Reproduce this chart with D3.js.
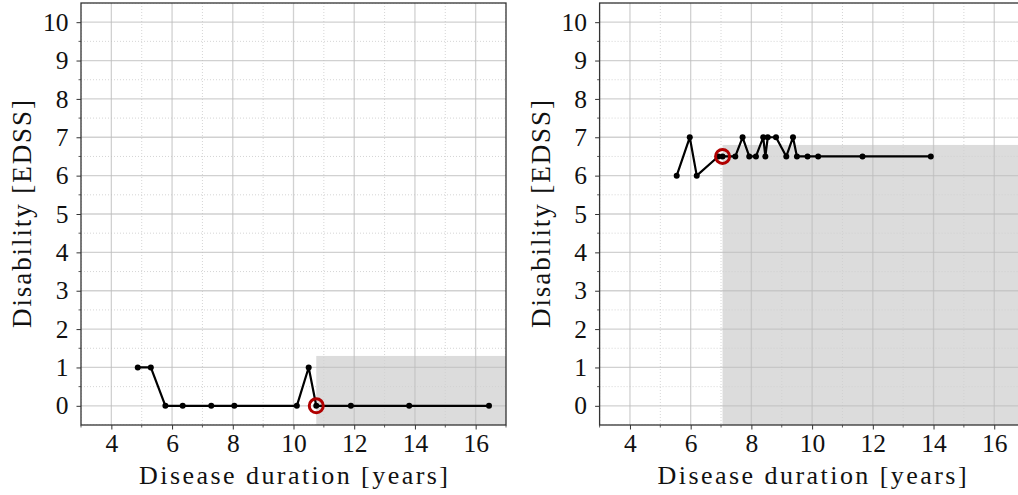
<!DOCTYPE html>
<html>
<head>
<meta charset="utf-8">
<script src="https://cdn.jsdelivr.net/npm/d3@7"></script>
<style>
  body { margin: 0; background: #fff; }
  svg text { font-family: "Liberation Serif", "DejaVu Serif", serif; fill: #111; }
</style>
</head>
<body>
<div id="container"></div>
<script>
// left patient
const leftYears = [4.87, 5.30, 5.78, 6.35, 7.29, 8.05, 10.11, 10.50, 10.75, 11.89, 13.81, 16.44];
const leftEdss  = [1, 1, 0, 0, 0, 0, 0, 1, 0, 0, 0, 0];
const leftMarkIndex = 8;       // circled visit
const leftShade = [10.75, 1.3]; // shaded area start (years) and top (EDSS)

// right patient
const rightYears = [5.54, 5.97, 6.20, 6.91, 7.05, 7.47, 7.71, 7.93, 8.15, 8.39, 8.46, 8.54, 8.81, 9.15, 9.37, 9.50, 9.85, 10.20, 11.66, 13.91];
const rightEdss  = [6, 7, 6, 6.5, 6.5, 6.5, 7, 6.5, 6.5, 7, 6.5, 7, 7, 6.5, 7, 6.5, 6.5, 6.5, 6.5, 6.5];
const rightMarkIndex = 4;
const rightShade = [7.05, 6.8];

const xTicks = [4, 6, 8, 10, 12, 14, 16];
const yTicks = [0, 1, 2, 3, 4, 5, 6, 7, 8, 9, 10];
const xLabel = "Disease duration [years]";
const yLabel = "Disability [EDSS]";

const w = 1018, h = 495;
const svg = d3.select("#container").append("svg")
  .attr("width", w).attr("height", h);

function panel(left, years, edss, markIndex, shade) {
  const pw = 425, top = 3, bottom = 425;
  const x = d3.scaleLinear().domain([3, 17]).range([left, left + pw]);
  const y = d3.scaleLinear().domain([-0.5, 10.5]).range([bottom, top]);
  const g = svg.append("g");

  const clipId = "clip" + Math.round(left);
  g.append("clipPath").attr("id", clipId)
    .append("rect").attr("x", left).attr("y", top).attr("width", pw).attr("height", bottom - top);
  const inner = g.append("g").attr("clip-path", "url(#" + clipId + ")");

  // shaded region
  inner.append("rect")
    .attr("x", x(shade[0])).attr("y", y(shade[1]))
    .attr("width", x(17) - x(shade[0])).attr("height", y(-0.5) - y(shade[1]))
    .attr("fill", "#dcdcdc");

  // minor grid
  const xMinor = d3.range(3, 17.01, 1).filter(v => v % 2 === 1);
  const yMinor = d3.range(-0.5, 10.51, 1);
  inner.selectAll(".xmin").data(xMinor).enter().append("line")
    .attr("x1", d => x(d)).attr("x2", d => x(d)).attr("y1", top).attr("y2", bottom)
    .attr("stroke", "#d0d0d0").attr("stroke-width", 0.9).attr("stroke-dasharray", "1,2");
  inner.selectAll(".ymin").data(yMinor).enter().append("line")
    .attr("y1", d => y(d)).attr("y2", d => y(d)).attr("x1", left).attr("x2", left + pw)
    .attr("stroke", "#d0d0d0").attr("stroke-width", 0.9).attr("stroke-dasharray", "1,2");
  // major grid
  inner.selectAll(".xmaj").data(xTicks).enter().append("line")
    .attr("x1", d => x(d)).attr("x2", d => x(d)).attr("y1", top).attr("y2", bottom)
    .attr("stroke", "#bdbdbd").attr("stroke-opacity", 0.7).attr("stroke-width", 1.3);
  inner.selectAll(".ymaj").data(yTicks).enter().append("line")
    .attr("y1", d => y(d)).attr("y2", d => y(d)).attr("x1", left).attr("x2", left + pw)
    .attr("stroke", "#bdbdbd").attr("stroke-opacity", 0.7).attr("stroke-width", 1.3);

  // data
  const pts = years.map((v, i) => [v, edss[i]]);
  inner.append("path").datum(pts)
    .attr("d", d3.line().x(d => x(d[0])).y(d => y(d[1])))
    .attr("fill", "none").attr("stroke", "#000").attr("stroke-width", 2.2)
    .attr("stroke-linejoin", "round");
  inner.selectAll(".pt").data(pts).enter().append("circle")
    .attr("cx", d => x(d[0])).attr("cy", d => y(d[1])).attr("r", 3).attr("fill", "#000");
  inner.append("circle")
    .attr("cx", x(years[markIndex])).attr("cy", y(edss[markIndex])).attr("r", 7)
    .attr("fill", "none").attr("stroke", "#b00000").attr("stroke-width", 3);

  // axes
  const xAxis = d3.axisBottom(x).tickValues(xTicks).tickSize(4.5).tickPadding(4).tickFormat(d3.format("d"));
  const yAxis = d3.axisLeft(y).tickValues(yTicks).tickSize(4.5).tickPadding(8).tickFormat(d3.format("d"));
  const xa = g.append("g").attr("transform", "translate(0," + bottom + ")").call(xAxis);
  const ya = g.append("g").attr("transform", "translate(" + left + ",0)").call(yAxis);
  [xa, ya].forEach(a => {
    a.select(".domain").remove();
    a.selectAll("line").attr("stroke", "#333").attr("stroke-width", 1);
    a.selectAll("text").attr("font-size", 25.5).attr("font-family", "Liberation Serif").attr("fill", "#111");
  });
  xa.selectAll("text").attr("dy", "0.72em");
  // minor ticks
  g.selectAll(".xmt").data(xMinor).enter().append("line")
    .attr("x1", d => x(d)).attr("x2", d => x(d)).attr("y1", bottom).attr("y2", bottom + 2.5)
    .attr("stroke", "#333").attr("stroke-width", 0.8);
  g.selectAll(".ymt").data(yMinor.filter(v => v > -0.5 && v < 10.5)).enter().append("line")
    .attr("y1", d => y(d)).attr("y2", d => y(d)).attr("x1", left).attr("x2", left - 2.5)
    .attr("stroke", "#333").attr("stroke-width", 0.8);

  // frame
  g.append("rect").attr("x", left).attr("y", top).attr("width", pw).attr("height", bottom - top)
    .attr("fill", "none").attr("stroke", "#333").attr("stroke-width", 1.3);

  // labels
  g.append("text").attr("x", left + pw / 2).attr("y", 484)
    .attr("text-anchor", "middle").attr("font-size", 26)
    .attr("textLength", 309).attr("lengthAdjust", "spacing")
    .text(xLabel);
  g.append("text")
    .attr("transform", "translate(" + (left - 50) + "," + ((top + bottom) / 2) + ") rotate(-90)")
    .attr("text-anchor", "middle").attr("font-size", 27)
    .attr("textLength", 228).attr("lengthAdjust", "spacing")
    .text(yLabel);
}

panel(81, leftYears, leftEdss, leftMarkIndex, leftShade);
panel(599.6, rightYears, rightEdss, rightMarkIndex, rightShade);
</script>
</body>
</html>
